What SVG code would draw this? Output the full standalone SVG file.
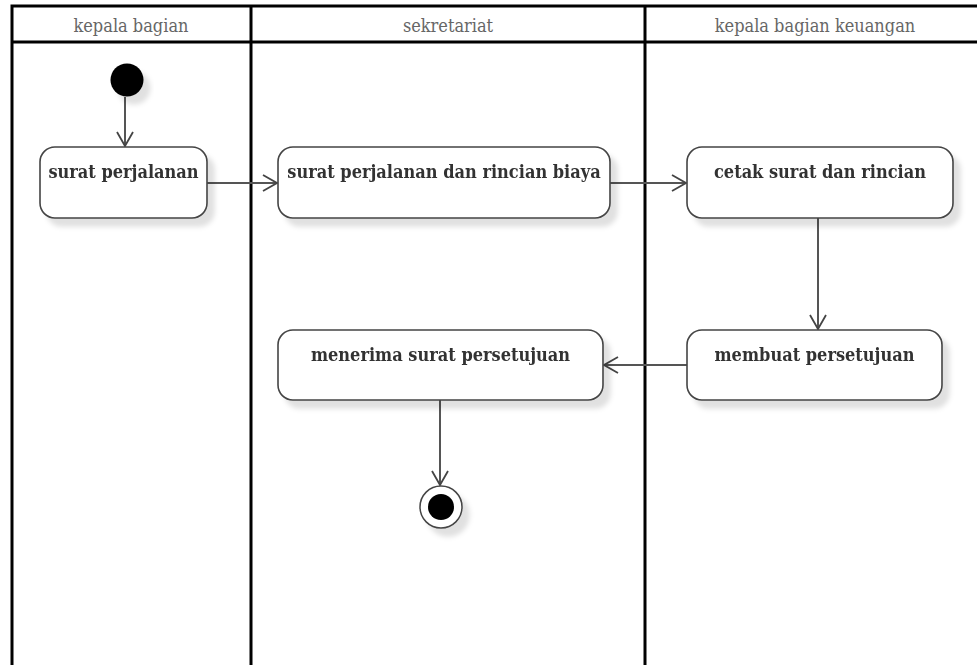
<svg xmlns="http://www.w3.org/2000/svg" width="977" height="665" viewBox="0 0 977 665">
  <defs>
    <filter id="shadow" x="-20%" y="-20%" width="150%" height="160%">
      <feGaussianBlur in="SourceAlpha" stdDeviation="2.5"/>
      <feOffset dx="7" dy="8" result="off"/>
      <feFlood flood-color="#000" flood-opacity="0.12"/>
      <feComposite in2="off" operator="in" result="sh"/>
      <feMerge><feMergeNode in="sh"/><feMergeNode in="SourceGraphic"/></feMerge>
    </filter>
    <marker id="open" viewBox="0 0 16 18" refX="15" refY="9" markerWidth="16" markerHeight="18" markerUnits="userSpaceOnUse" orient="auto">
      <path d="M1 1 L15 9 L1 17" fill="none" stroke="#444" stroke-width="1.8"/>
    </marker>
  </defs>
  <style>
    .lane { fill: none; stroke: #000; stroke-width: 3; }
    .head { font-family: "DejaVu Serif", "Liberation Serif", serif; font-stretch: condensed; font-size: 18px; fill: #666; text-anchor: middle; }
    .act rect { fill: #fff; stroke: #444; stroke-width: 1.6; }
    .act text { font-family: "DejaVu Serif", "Liberation Serif", serif; font-stretch: condensed; font-weight: bold; font-size: 18px; fill: #333; text-anchor: middle; }
    .edge { fill: none; stroke: #555; stroke-width: 2; marker-end: url(#open); }
  </style>
  <rect width="977" height="665" fill="#fff"/>

  <!-- swimlanes -->
  <g id="lanes">
    <path class="lane" d="M12 680 V6 H990 M12 42 H990 M251 6 V680 M645 6 V680"/>
    <text class="head" x="131" y="32">kepala bagian</text>
    <text class="head" x="448" y="32">sekretariat</text>
    <text class="head" x="815" y="32">kepala bagian keuangan</text>
  </g>

  <!-- connectors -->
  <g id="connectors">
    <path class="edge" d="M125 97 V146"/>
    <path class="edge" d="M207 183 H277"/>
    <path class="edge" d="M610 183 H686"/>
    <path class="edge" d="M818 218 V329"/>
    <path class="edge" d="M687 365 H604"/>
    <path class="edge" d="M440 400 V485"/>
  </g>

  <g id="start" filter="url(#shadow)">
    <circle cx="127" cy="80" r="16.5" fill="#000"/>
  </g>

  <g id="surat-perjalanan" class="act" filter="url(#shadow)">
    <rect x="40" y="147" width="167" height="71" rx="15"/>
    <text x="123.5" y="178">surat perjalanan</text>
  </g>

  <g id="surat-rincian-biaya" class="act" filter="url(#shadow)">
    <rect x="278" y="147" width="332" height="71" rx="15"/>
    <text x="444" y="178">surat perjalanan dan rincian biaya</text>
  </g>

  <g id="cetak-surat" class="act" filter="url(#shadow)">
    <rect x="687" y="147" width="266" height="71" rx="15"/>
    <text x="820" y="178">cetak surat dan rincian</text>
  </g>

  <g id="membuat-persetujuan" class="act" filter="url(#shadow)">
    <rect x="687" y="330" width="255" height="70" rx="15"/>
    <text x="814.5" y="361">membuat persetujuan</text>
  </g>

  <g id="menerima-persetujuan" class="act" filter="url(#shadow)">
    <rect x="278" y="330" width="325" height="70" rx="15"/>
    <text x="440.5" y="361">menerima surat persetujuan</text>
  </g>

  <g id="end" filter="url(#shadow)">
    <circle cx="441" cy="507" r="21" fill="#fff" stroke="#444" stroke-width="1.5"/>
    <circle cx="441" cy="507" r="13" fill="#000"/>
  </g>
</svg>
